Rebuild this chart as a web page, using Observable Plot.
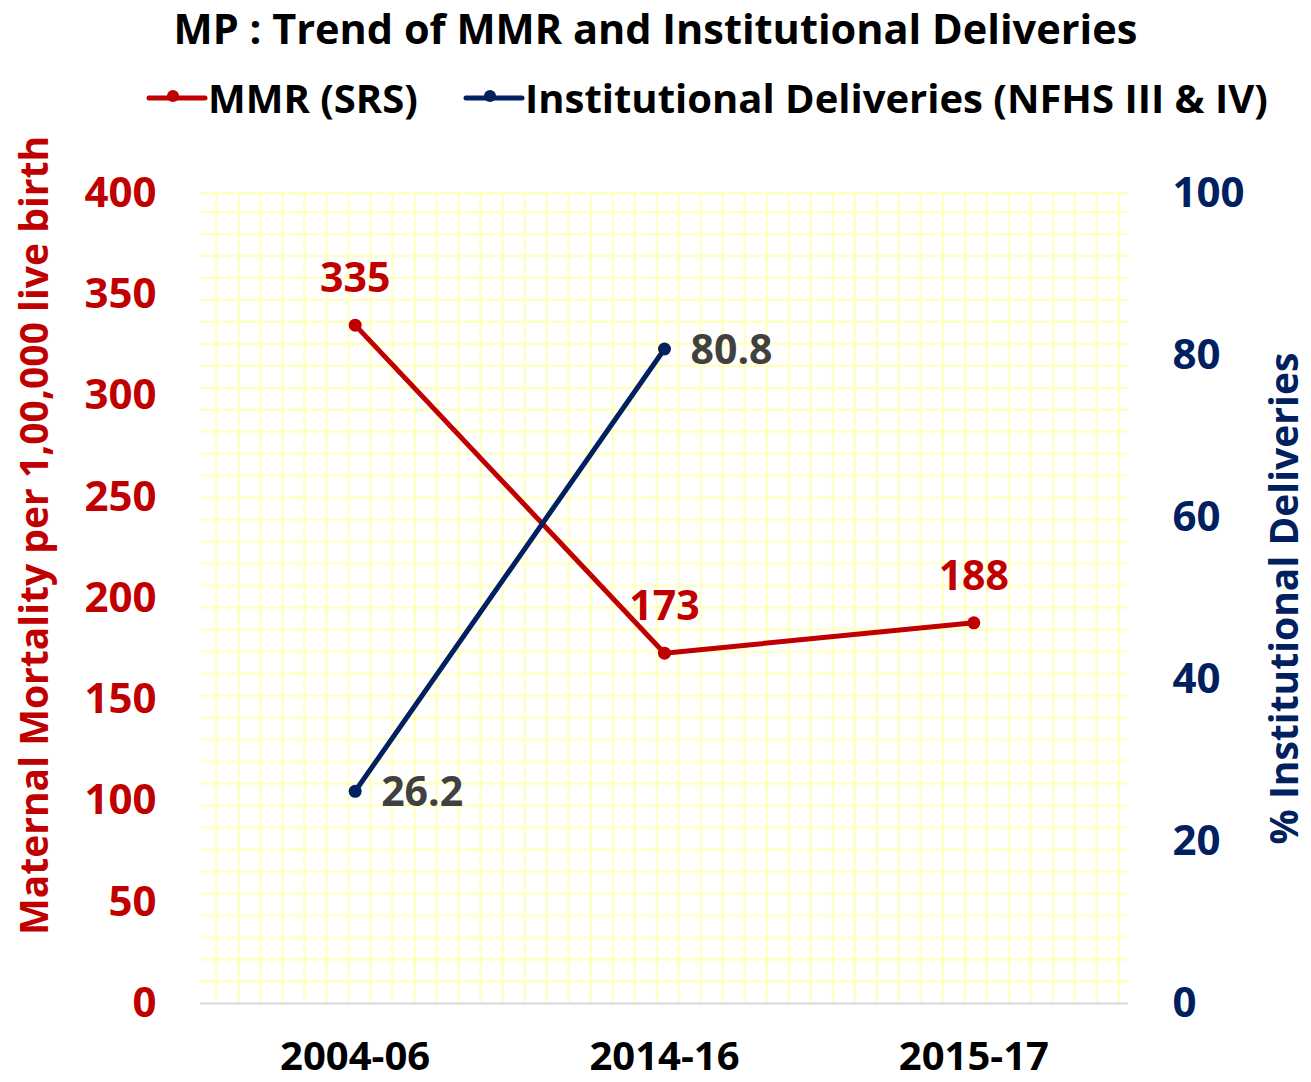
<!DOCTYPE html>
<html>
<head>
<meta charset="utf-8">
<script src="https://cdn.jsdelivr.net/npm/d3@7"></script>
<script src="https://cdn.jsdelivr.net/npm/@observablehq/plot@0.6"></script>
<style>
  body { margin: 0; background: #fff; font-family: "Open Sans", sans-serif; overflow: hidden; }
  #wrap { position: relative; width: 1311px; height: 1082px; }
  #title { position: absolute; left: 0; top: 0; width: 1311px; height: 60px; text-align: center;
           font-weight: bold; font-size: 41.5px; line-height: 56px; color: #000; white-space: nowrap; }
  #legend { position: absolute; left: 0; top: 60px; width: 1311px; height: 75px; }
  .lg { position: absolute; top: 14px; font-weight: bold; font-size: 40px; line-height: 48px; color: #000; white-space: nowrap; }
  #chart { position: absolute; left: 0; top: 135px; }
</style>
</head>
<body>
<div id="wrap">
  <div id="title">MP : Trend of MMR and Institutional Deliveries</div>
  <div id="legend"></div>
  <div id="chart"></div>
</div>
<script>
const categories = ["2004-06", "2014-16", "2015-17"];
const mmrValues = [335, 173, 188];
const instCategories = ["2004-06", "2014-16"];
const instValues = [26.2, 80.8];
const leftTicks = [0, 50, 100, 150, 200, 250, 300, 350, 400];
const rightTicks = [0, 20, 40, 60, 80, 100];

const RED = "#C00000";
const NAVY = "#002060";
const RATIO = 4; // right axis (0-100) mapped onto left axis (0-400)

const mmr = categories.map((c, i) => ({cat: c, x: i + 0.5, v: mmrValues[i]}));
const inst = instCategories.map((c, i) => ({cat: c, x: categories.indexOf(c) + 0.5, v: instValues[i], y: instValues[i] * RATIO}));

// decorative grid (styling only)
const gridYs = d3.range(1, 37).map(k => k * 10.86).concat([400]);
const gridXs = d3.range(0, 42).map(k => (16 + 22 * k) / 309.2);

// legend
const legend = document.getElementById("legend");
legend.innerHTML = `
  <svg style="position:absolute;left:0;top:0" width="1311" height="75">
    <line x1="149" x2="205" y1="38" y2="38" stroke="${RED}" stroke-width="5" stroke-linecap="round"/>
    <circle cx="173" cy="36" r="6" fill="${RED}"/>
    <line x1="466" x2="522" y1="38" y2="38" stroke="${NAVY}" stroke-width="5" stroke-linecap="round"/>
    <circle cx="490" cy="36" r="6" fill="${NAVY}"/>
  </svg>
  <div class="lg" style="left:208px">MMR (SRS)</div>
  <div class="lg" style="left:525px">Institutional Deliveries (NFHS III &amp; IV)</div>`;

const chart = Plot.plot({
  width: 1311,
  height: 947,
  marginTop: 58,
  marginBottom: 79,
  marginLeft: 200,
  marginRight: 183,
  style: {fontFamily: "Open Sans, sans-serif", fontWeight: "bold", background: "#fff", overflow: "visible"},
  x: {type: "linear", domain: [0, 3], axis: null},
  y: {domain: [0, 400], axis: null},
  marks: [
    Plot.ruleY(gridYs, {stroke: "#FFFFC0", strokeWidth: 2.3}),
    Plot.ruleX(gridXs, {stroke: "#FFFFC0", strokeWidth: 2.3}),
    Plot.ruleY([0], {stroke: "#D9D9D9", strokeWidth: 2}),
    Plot.axisY({anchor: "left", ticks: leftTicks, tickSize: 0, tickPadding: 44, fontSize: 42, fill: RED, label: null}),
    Plot.axisY({anchor: "right", ticks: rightTicks.map(t => t * RATIO), tickFormat: d => d / RATIO, tickSize: 0, tickPadding: 44, fontSize: 42, fill: NAVY, label: null}),
    Plot.axisX({ticks: categories.map((c, i) => i + 0.5), tickFormat: d => categories[Math.round(d - 0.5)], tickSize: 0, tickPadding: 38, fontSize: 40, fill: "#000", label: null}),
    Plot.line(mmr, {x: "x", y: "v", stroke: RED, strokeWidth: 5}),
    Plot.dot(mmr, {x: "x", y: "v", r: 6.5, fill: RED}),
    Plot.line(inst, {x: "x", y: "y", stroke: NAVY, strokeWidth: 5}),
    Plot.dot(inst, {x: "x", y: "y", r: 6.5, fill: NAVY}),
    Plot.text(mmr, {x: "x", y: "v", text: d => String(d.v), dy: -46, fill: RED, fontSize: 41, fontWeight: "bold"}),
    Plot.text(inst, {x: "x", y: "y", text: d => d.v.toFixed(1), dx: 26, dy: 2, textAnchor: "start", fill: "#404040", fontSize: 41, fontWeight: "bold"}),
    Plot.text(["Maternal Mortality per 1,00,000 live birth"], {frameAnchor: "left", text: d => d, rotate: -90, textAnchor: "middle", dx: -165, dy: -63, fill: RED, fontSize: 39, fontWeight: "bold"}),
    Plot.text(["% Institutional Deliveries"], {frameAnchor: "right", text: d => d, rotate: -90, textAnchor: "middle", dx: 157, dy: 0, fill: NAVY, fontSize: 39, fontWeight: "bold"})
  ]
});
document.getElementById("chart").appendChild(chart);
</script>
</body>
</html>
